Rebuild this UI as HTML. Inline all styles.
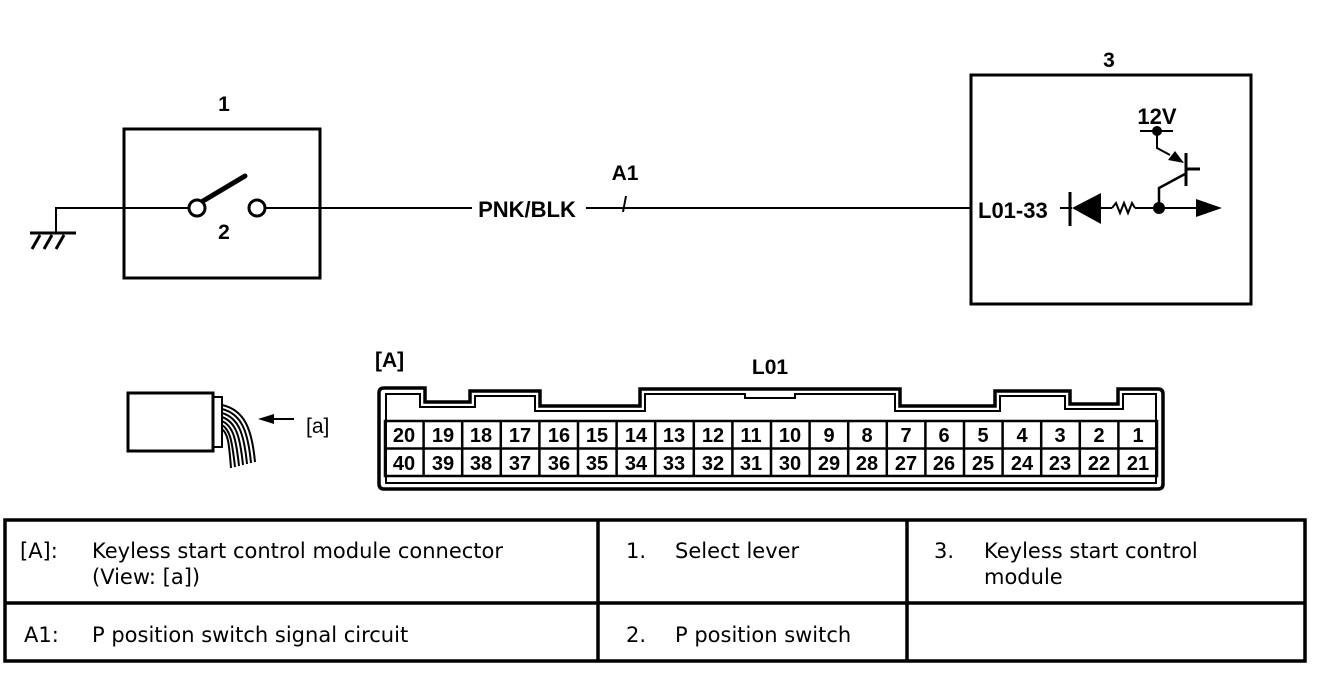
<!DOCTYPE html>
<html><head><meta charset="utf-8"><style>
html,body{margin:0;padding:0;background:#fff;}
svg{display:block;}
.b{font-family:"Liberation Sans",Arial,sans-serif;font-weight:bold;}
.t{font-family:"DejaVu Sans","Liberation Sans",sans-serif;font-size:21px;}
</style></head><body>
<svg width="1328" height="680" viewBox="0 0 1328 680" xmlns="http://www.w3.org/2000/svg">
<g fill="none" stroke="#000">
<rect x="124" y="129" width="196" height="149" stroke-width="3"/>
<rect x="971" y="75" width="280" height="229" stroke-width="3"/>
<path d="M56 232 V208 H189 M265 208 H970" stroke-width="2"/>
<path d="M30 233 H76" stroke-width="3"/>
<path d="M40 235 L32 249 M52 235 L44 249 M64 235 L56 249" stroke-width="3"/>
<circle cx="197" cy="208" r="8" stroke-width="3" fill="#fff"/>
<circle cx="257" cy="208" r="8" stroke-width="3" fill="#fff"/>
<path d="M203 201 L245 176" stroke-width="5" stroke-linecap="round"/>
<path d="M626 196 L623 212" stroke-width="2"/>
<path d="M1060 208 H1072 M1100 208 H1112 M1135 208 H1205" stroke-width="2"/>
<path d="M1070 192 V226" stroke-width="3"/>
<path d="M1112 208 L1116 203 L1120 213 L1124 203 L1128 213 L1132 203 L1135 208" stroke-width="2"/>
<path d="M1159 208 V188 L1185 174" stroke-width="2.5"/>
<path d="M1186 153 V186 M1186 169 H1200" stroke-width="3"/>
<path d="M1140 131 H1173 M1157 131 V148 L1170 155" stroke-width="2"/>
<rect x="128" y="393" width="85" height="58" stroke-width="3"/>
<rect x="213" y="397" width="9" height="50" stroke-width="2"/>
<path d="M222 405 C245 410 252 430 255 462 M222 409 C242 414 248 432 251 463 M222 413 C239 418 244 434 247 464 M222 417 C236 422 240 436 243 465 M222 421 C233 426 236 438 239 466 M222 425 C230 430 232 440 235 467 M222 429 C228 434 229 442 231 468" stroke-width="2"/>
<path d="M272 419 H294" stroke-width="2"/>
<path d="M384 388 H425 V402 H470 V391 H540 V406 H640 V389 H900 V406 H995 V391 H1070 V404 H1118 V389 H1158 Q1163 389 1163 394 V484 Q1163 489 1158 489 H384 Q379 489 379 484 V393 Q379 388 384 388 Z" stroke-width="3.5"/>
<path d="M388 394 H420 V407 H475 V396 H535 V411 H645 V394 H745 V398 H795 V394 H895 V411 H1000 V396 H1065 V409 H1123 V394 H1156 V483 H386 V394 Z" stroke-width="2"/>
<rect x="385" y="421" width="772" height="55" stroke-width="2.5"/>
<path d="M385 448.5 H1157" stroke-width="2.5"/>
<path d="M423.6 421V476 M462.2 421V476 M500.8 421V476 M539.4 421V476 M578 421V476 M616.6 421V476 M655.2 421V476 M693.8 421V476 M732.4 421V476 M771 421V476 M809.6 421V476 M848.2 421V476 M886.8 421V476 M925.4 421V476 M964 421V476 M1002.6 421V476 M1041.2 421V476 M1079.8 421V476 M1118.4 421V476" stroke-width="2.5"/>
<rect x="5" y="520" width="1300" height="141" stroke-width="3.5"/>
<path d="M5 603 H1305 M598 520 V661 M907 520 V661" stroke-width="3.5"/>
</g>
<g fill="#000">
<path d="M1101 193 V224 L1072 208 Z"/>
<circle cx="1159" cy="208" r="6"/>
<path d="M1222 208 L1196 199 V217 Z"/>
<circle cx="1157" cy="131" r="5"/>
<path d="M1184 163 L1168 160 L1175 151 Z"/>
<path d="M258 419 L274 414 V424 Z"/>
</g>
<g class="b" font-size="21" text-anchor="middle">
<text x="224" y="111">1</text>
<text x="224" y="239">2</text>
<text x="1109" y="67">3</text>
<text x="625" y="180">A1</text>
<rect x="472" y="196" width="114" height="24" fill="#fff"/>
<text x="527" y="217" font-size="22">PNK/BLK</text>
<text x="1157" y="124" font-size="22">12V</text>
<text x="770" y="374">L01</text>
</g>
<text class="b" x="978" y="218" font-size="22">L01-33</text>
<text class="b" x="375" y="367" font-size="21">[A]</text>
<text x="306" y="433" font-size="21" font-family="Liberation Sans,sans-serif">[a]</text>
<g class="b" font-size="20" text-anchor="middle">
<text x="404" y="442">20</text><text x="443" y="442">19</text><text x="481" y="442">18</text><text x="520" y="442">17</text><text x="559" y="442">16</text><text x="597" y="442">15</text><text x="636" y="442">14</text><text x="674" y="442">13</text><text x="713" y="442">12</text><text x="751" y="442">11</text><text x="790" y="442">10</text><text x="829" y="442">9</text><text x="867" y="442">8</text><text x="906" y="442">7</text><text x="944" y="442">6</text><text x="983" y="442">5</text><text x="1022" y="442">4</text><text x="1060" y="442">3</text><text x="1099" y="442">2</text><text x="1138" y="442">1</text>
<text x="404" y="470">40</text><text x="443" y="470">39</text><text x="481" y="470">38</text><text x="520" y="470">37</text><text x="559" y="470">36</text><text x="597" y="470">35</text><text x="636" y="470">34</text><text x="674" y="470">33</text><text x="713" y="470">32</text><text x="751" y="470">31</text><text x="790" y="470">30</text><text x="829" y="470">29</text><text x="867" y="470">28</text><text x="906" y="470">27</text><text x="944" y="470">26</text><text x="983" y="470">25</text><text x="1022" y="470">24</text><text x="1060" y="470">23</text><text x="1099" y="470">22</text><text x="1138" y="470">21</text>
</g>
<g class="t">
<text x="20" y="558">[A]:</text>
<text x="92" y="558">Keyless start control module connector</text>
<text x="92" y="584">(View: [a])</text>
<text x="24" y="642">A1:</text>
<text x="92" y="642">P position switch signal circuit</text>
<text x="626" y="558">1.</text>
<text x="675" y="558">Select lever</text>
<text x="626" y="642">2.</text>
<text x="675" y="642">P position switch</text>
<text x="934" y="558">3.</text>
<text x="984" y="558">Keyless start control</text>
<text x="984" y="584">module</text>
</g>
</svg>
</body></html>
